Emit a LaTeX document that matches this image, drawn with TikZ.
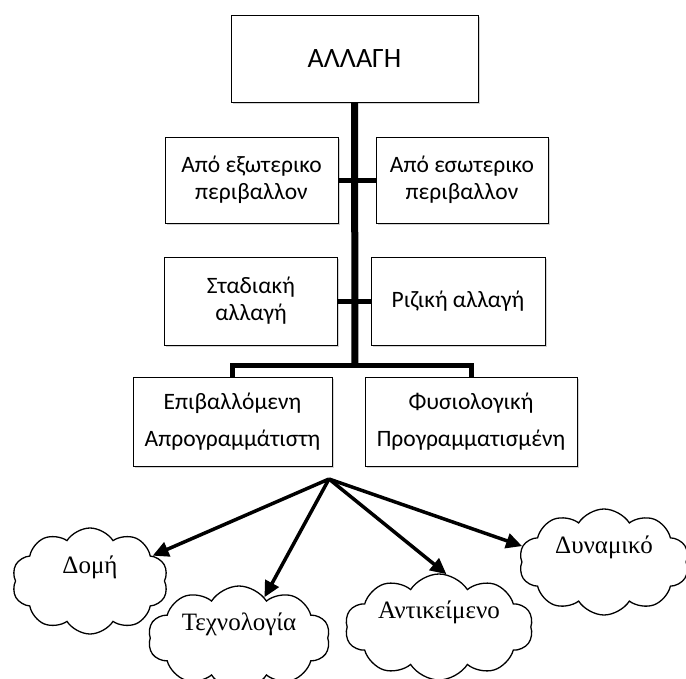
\documentclass[tikz,border=0pt]{standalone}
\usepackage{fontspec}
\setmainfont{Carlito}
\newfontfamily\cloudfont{Liberation Serif}
\usetikzlibrary{shapes.symbols,shadows,arrows.meta}
\tikzset{
  box/.style={draw, line width=1pt, fill=white, align=center, inner sep=0pt,
    font=\fontsize{23.5}{27}\selectfont,
    drop shadow={shadow xshift=1.5pt, shadow yshift=-1.5pt, opacity=0.35, fill=gray}},
  puff/.style={cloud, cloud puffs=10, cloud puff arc=115, cloud ignores aspect,
    draw, line width=1.3pt, inner sep=0pt, font=\cloudfont\fontsize{25}{27}\selectfont},
  trunk/.style={line width=7pt},
  branch/.style={line width=5pt, line join=miter},
  arr/.style={line width=3.5pt, -{Triangle[length=16pt,width=15pt]}}
}
\begin{document}
\begin{tikzpicture}[x=1pt,y=-1pt]
\useasboundingbox (0,0) rectangle (686,678);

% hierarchy boxes
\node[box, minimum width=247, minimum height=87, font=\fontsize{28}{30}\selectfont] (top) at (354.5,58.5) {ΑΛΛΑΓΗ};
\node[box, minimum width=173, minimum height=86] (ext) at (251.5,180) {Από εξωτερικο\\περιβαλλον};
\node[box, minimum width=172, minimum height=86] (int) at (462,180) {Από εσωτερικο\\περιβαλλον};
\node[box, minimum width=173, minimum height=88] (stad) at (251,301) {Σταδιακή\\αλλαγή};
\node[box, minimum width=174, minimum height=88] (riz) at (458,301) {Ριζική αλλαγή};
\node[box, minimum width=199, minimum height=89, font=\fontsize{23.5}{37}\selectfont] (epi) at (232.5,421.5) {Επιβαλλόμενη\\Απρογραμμάτιστη};
\node[box, minimum width=212, minimum height=89, font=\fontsize{23.5}{37}\selectfont] (fys) at (471,421.5) {Φυσιολογική\\Προγραμματισμένη};

% connectors of the tree
\coordinate (split) at (355,365);
\draw[branch] (ext.east) -- (int.west);
\draw[branch] (stad.east) -- (riz.west);
\draw[branch] (epi.north) |- (split) -| (fys.north);
\draw[trunk] (top.south) -- (split);

% clouds, labels set in their upper half
\node[puff, minimum width=156, minimum height=106] (domi) at (90,581) {\raisebox{32pt}{Δομή}};
\node[puff, minimum width=182, minimum height=104] (tech) at (239,638) {\raisebox{32pt}{Τεχνολογία}};
\node[puff, minimum width=188, minimum height=106] (anti) at (439,627) {\raisebox{34pt}{Αντικείμενο}};
\node[puff, minimum width=170, minimum height=106] (dyn) at (604,562) {\raisebox{34pt}{Δυναμικό}};

% arrows from the fork point
\coordinate (hub) at (329,479);
\draw[arr] (hub) -- (domi.22);
\draw[arr] (hub) -- (tech.58);
\draw[arr] (hub) -- (anti.82);
\draw[arr] (hub) -- (dyn.169);
\end{tikzpicture}
\end{document}
